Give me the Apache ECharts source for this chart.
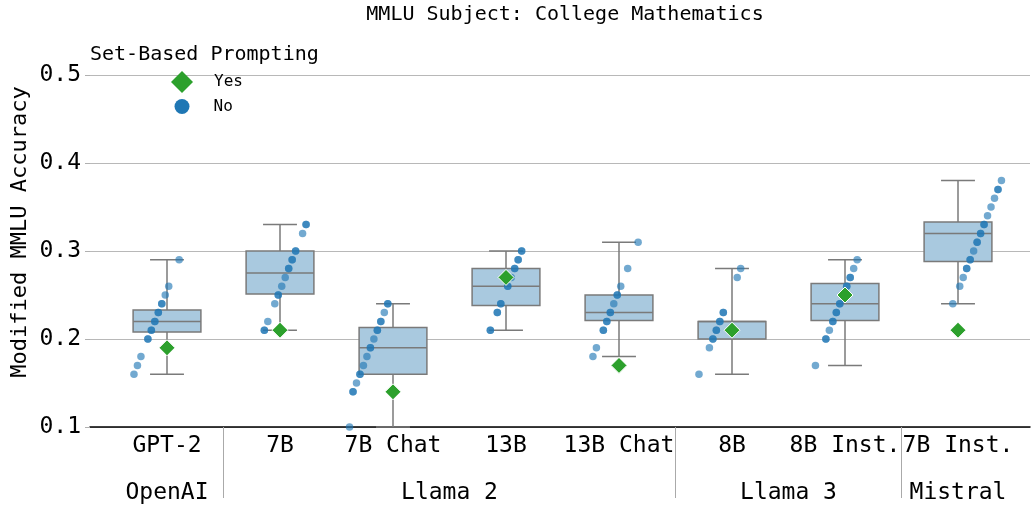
<!DOCTYPE html>
<html><head><meta charset="utf-8">
<script src="https://cdn.jsdelivr.net/npm/echarts@6/dist/echarts.min.js"></script>
<style>html,body{margin:0;padding:0;background:#fff}#c{width:1036px;height:510px}</style>
</head><body><div id="c"></div>
<script>
// ---- data ----
const models = ['GPT-2', '7B', '7B Chat', '13B', '13B Chat', '8B', '8B Inst.', '7B Inst.'];
const families = ['OpenAI', 'Llama 2', 'Llama 3', 'Mistral'];
const familyFirst = [0, 1, 5, 7];
const familyLast = [0, 4, 6, 7];
const yTicks = [0.1, 0.2, 0.3, 0.4, 0.5];

const boxMin = [0.16, 0.21, 0.10, 0.21, 0.18, 0.16, 0.17, 0.24];
const boxQ1  = [0.208, 0.251, 0.16, 0.238, 0.221, 0.20, 0.221, 0.288];
const boxMed = [0.22, 0.275, 0.19, 0.26, 0.23, 0.22, 0.24, 0.32];
const boxQ3  = [0.233, 0.30, 0.213, 0.28, 0.25, 0.22, 0.263, 0.333];
const boxMax = [0.29, 0.33, 0.24, 0.30, 0.31, 0.28, 0.29, 0.38];

const yesValues = [0.19, 0.21, 0.14, 0.27, 0.17, 0.21, 0.25, 0.21];

const noGPT2   = [0.16,0.17,0.18,0.20,0.20,0.21,0.21,0.22,0.22,0.23,0.23,0.24,0.24,0.25,0.26,0.29];
const no7B     = [0.21,0.21,0.22,0.24,0.25,0.25,0.26,0.27,0.28,0.28,0.29,0.29,0.30,0.30,0.32,0.33,0.33];
const no7BChat = [0.10,0.14,0.14,0.15,0.16,0.16,0.17,0.18,0.19,0.19,0.20,0.21,0.21,0.22,0.22,0.23,0.24,0.24];
const no13B    = [0.21,0.21,0.23,0.23,0.24,0.24,0.26,0.26,0.27,0.28,0.28,0.29,0.29,0.30,0.30];
const no13BChat= [0.18,0.19,0.21,0.21,0.22,0.22,0.23,0.23,0.24,0.25,0.25,0.26,0.28,0.31];
const no8B     = [0.16,0.19,0.20,0.20,0.21,0.21,0.22,0.22,0.23,0.23,0.27,0.28];
const no8BInst = [0.17,0.20,0.20,0.21,0.22,0.22,0.23,0.23,0.24,0.24,0.26,0.26,0.27,0.27,0.28,0.29];
const noMistral= [0.24,0.26,0.27,0.28,0.28,0.29,0.29,0.30,0.31,0.31,0.32,0.32,0.33,0.33,0.34,0.35,0.36,0.37,0.37,0.38];
const noValues = [noGPT2, no7B, no7BChat, no13B, no13BChat, no8B, no8BInst, noMistral];

// ---- build ----
const FONT = '"DejaVu Sans Mono", monospace';
const BLUE = '#1f77b4', GREEN = '#2ca02c';
// hue levels: unique values across all "No" points (dodge slots)
const levelSet = Array.from(new Set(noValues.flat().map(v => Math.round(v * 100)))).sort((a, b) => a - b);
const nLev = levelSet.length;
const noData = [];
noValues.forEach((arr, i) => arr.forEach(v => {
  const r = levelSet.indexOf(Math.round(v * 100));
  noData.push([i - 0.4 + (r + 0.5) * 0.8 / nLev, v]);
}));
const yesData = yesValues.map((v, i) => [i, v]);
const boxData = models.map((m, i) => [i, boxMin[i], boxQ1[i], boxMed[i], boxQ3[i], boxMax[i]]);
const famData = families.map((f, i) => [familyFirst[i], familyLast[i], i]);

const chart = echarts.init(document.getElementById('c'), null, {renderer: 'canvas'});
const EDGE = '#7a7a7a';
function txt(x, y, text, size, align, rot) {
  const o = {type: 'text', x, y, style: {text, font: size + 'px ' + FONT, fill: '#000', align, verticalAlign: 'middle', textAlign: align, textVerticalAlign: 'middle'}};
  if (rot) o.rotation = rot;
  return o;
}
chart.setOption({
  animation: false,
  textStyle: {fontFamily: FONT},
  graphic: [
    txt(565, 15, 'MMLU Subject: College Mathematics', 20, 'center'),
    txt(90, 55, 'Set-Based Prompting', 20, 'left'),
    txt(20, 232, 'Modified MMLU Accuracy', 22, 'center', Math.PI / 2)
  ],
  legend: [
    {orient: 'vertical', left: 171, top: 71, itemWidth: 22, itemHeight: 22, padding: 0,
     textStyle: {fontFamily: FONT, fontSize: 16, color: '#000', padding: [0, 0, 0, 16]},
     data: [{name: 'Yes', icon: 'diamond', itemStyle: {opacity: 1, color: GREEN, borderWidth: 0}}]},
    {orient: 'vertical', left: 174.5, top: 98.5, itemWidth: 15, itemHeight: 15, padding: 0,
     textStyle: {fontFamily: FONT, fontSize: 16, color: '#000', padding: [0, 0, 0, 19]},
     data: [{name: 'No', icon: 'circle', itemStyle: {opacity: 1, color: BLUE}}]}
  ],
  grid: [
    {left: 90, right: 6, top: 75, bottom: 83},
    {left: 110.5, right: 21.5, top: 75, bottom: 83}
  ],
  xAxis: [
    {gridIndex: 0, type: 'value', min: 0, max: 1, axisLine: {show: true, lineStyle: {color: '#000', width: 1.5}}, axisTick: {show: false}, axisLabel: {show: false}, splitLine: {show: false}},
    {gridIndex: 1, type: 'category', data: models, axisLine: {show: false}, axisTick: {show: false}, axisLabel: {interval: 0, fontFamily: FONT, fontSize: 23, color: '#000', margin: 8}},
    {gridIndex: 1, type: 'value', min: -0.5, max: 7.5, show: false}
  ],
  yAxis: [
    {gridIndex: 0, type: 'value', min: 0.1, max: 0.5, interval: 0.1,
     axisLine: {show: false}, axisTick: {show: true, length: 5, lineStyle: {color: '#b0b0b0'}},
     axisLabel: {fontFamily: FONT, fontSize: 23, color: '#000', margin: 9, formatter: v => v.toFixed(1)},
     splitLine: {lineStyle: {color: '#b8b8b8', width: 1}}},
    {gridIndex: 1, type: 'value', min: 0.1, max: 0.5, show: false}
  ],
  series: [
    {type: 'custom', xAxisIndex: 2, yAxisIndex: 1, data: boxData, z: 2, clip: false,
     renderItem: (params, api) => {
       const x = api.value(0);
       const pMin = api.coord([x, api.value(1)]), pQ1 = api.coord([x, api.value(2)]), pMed = api.coord([x, api.value(3)]);
       const pQ3 = api.coord([x, api.value(4)]), pMax = api.coord([x, api.value(5)]);
       const w = api.size([0.6, 0])[0];
       const c = pMed[0];
       const ls = {stroke: EDGE, lineWidth: 1.5, fill: null};
       return {type: 'group', children: [
         {type: 'line', shape: {x1: c, y1: pMax[1], x2: c, y2: pQ3[1]}, style: ls},
         {type: 'line', shape: {x1: c, y1: pQ1[1], x2: c, y2: pMin[1]}, style: ls},
         {type: 'line', shape: {x1: c - w / 4, y1: pMax[1], x2: c + w / 4, y2: pMax[1]}, style: ls},
         {type: 'line', shape: {x1: c - w / 4, y1: pMin[1], x2: c + w / 4, y2: pMin[1]}, style: ls},
         {type: 'rect', shape: {x: c - w / 2, y: pQ3[1], width: w, height: pQ1[1] - pQ3[1]}, style: {fill: '#a9c9df', stroke: EDGE, lineWidth: 1.5}},
         {type: 'line', shape: {x1: c - w / 2, y1: pMed[1], x2: c + w / 2, y2: pMed[1]}, style: ls}
       ]};
     }},
    {name: 'No', type: 'scatter', xAxisIndex: 2, yAxisIndex: 1, data: noData, symbol: 'circle', symbolSize: 7.5, z: 3,
     itemStyle: {color: BLUE, opacity: 0.63}},
    {name: 'Yes', type: 'scatter', xAxisIndex: 2, yAxisIndex: 1, data: yesData, symbol: 'diamond', symbolSize: 16, z: 4,
     itemStyle: {color: GREEN, borderColor: '#fff', borderWidth: 1, opacity: 1}},
    {type: 'custom', xAxisIndex: 2, yAxisIndex: 1, data: famData, z: 1, clip: false, silent: true,
     renderItem: (params, api) => {
       const a = api.value(0), b = api.value(1), idx = api.value(2);
       const pc = api.coord([(a + b) / 2, 0.1]);
       const children = [txt(pc[0], pc[1] + 66, families[idx], 23, 'center')];
       if (idx < families.length - 1) {
         const pd = api.coord([b + 0.5, 0.1]);
         children.push({type: 'line', shape: {x1: pd[0], y1: pd[1], x2: pd[0], y2: pd[1] + 71}, style: {stroke: '#aaaaaa', lineWidth: 1}});
       }
       return {type: 'group', children};
     }}
  ]
});
</script></body></html>
